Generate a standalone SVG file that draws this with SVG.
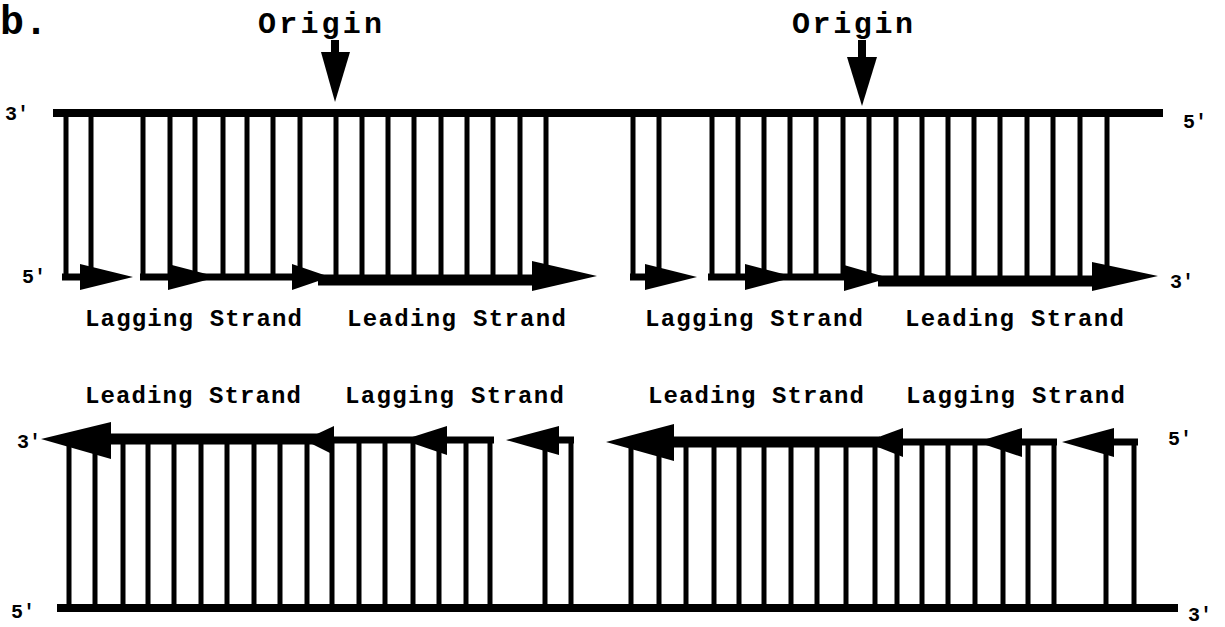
<svg xmlns="http://www.w3.org/2000/svg" width="1225" height="627" viewBox="0 0 1225 627">
<style>
.bg{fill:#fff}
.strand{stroke:#000;fill:none;stroke-linecap:butt}
.par{stroke-width:8}
.thin{stroke-width:7}
.thick{stroke-width:11}
.bar{stroke:#000;stroke-width:5;fill:none}
.head{fill:#000;stroke:none}
.lbl{font-family:"Liberation Mono","Courier New",monospace;font-weight:bold;fill:#000}
.end{font-family:"Liberation Mono","Courier New",monospace;font-weight:bold;font-size:20px;fill:#000}
</style>
<rect class="bg" x="0" y="0" width="1225" height="627"/>
<g id="panel-label"><text class="lbl" x="0" y="34" font-size="40">b.</text></g>

<g id="origin-left">
<text class="lbl" x="258" y="33" font-size="30" textLength="124" lengthAdjust="spacing">Origin</text>
<rect x="331" y="40" width="8" height="13" fill="#000"/>
<polygon class="head" points="321,52 350,52 335,102"/>
</g>
<g id="origin-right">
<text class="lbl" x="792" y="33" font-size="30" textLength="121" lengthAdjust="spacing">Origin</text>
<rect x="858" y="40" width="8" height="18" fill="#000"/>
<polygon class="head" points="847,57 877,57 862,106"/>
</g>

<g id="end-labels">
<text class="end" x="5" y="120">3'</text>
<text class="end" x="22" y="283">5'</text>
<text class="end" x="1183" y="128">5'</text>
<text class="end" x="1170" y="288">3'</text>
<text class="end" x="17" y="448">3'</text>
<text class="end" x="11" y="618">5'</text>
<text class="end" x="1168" y="445">5'</text>
<text class="end" x="1188" y="621">3'</text>
</g>

<g id="strand-labels">
<text class="lbl" x="85" y="326" font-size="24" textLength="217" lengthAdjust="spacing">Lagging Strand</text>
<text class="lbl" x="347" y="326" font-size="24" textLength="219" lengthAdjust="spacing">Leading Strand</text>
<text class="lbl" x="645" y="326" font-size="24" textLength="218" lengthAdjust="spacing">Lagging Strand</text>
<text class="lbl" x="905" y="326" font-size="24" textLength="219" lengthAdjust="spacing">Leading Strand</text>
<text class="lbl" x="85" y="403" font-size="24" textLength="216" lengthAdjust="spacing">Leading Strand</text>
<text class="lbl" x="345" y="403" font-size="24" textLength="219" lengthAdjust="spacing">Lagging Strand</text>
<text class="lbl" x="648" y="403" font-size="24" textLength="216" lengthAdjust="spacing">Leading Strand</text>
<text class="lbl" x="906" y="403" font-size="24" textLength="219" lengthAdjust="spacing">Lagging Strand</text>
</g>

<g id="top-duplex">
<line class="strand par" x1="53" y1="113" x2="1163" y2="113"/>
<path class="bar" d="M66 113V277M91 113V277M143 113V277M170 113V277M195 113V277M223 113V277M247 113V277M273 113V277M300 113V277M336 113V277M362 113V277M388 113V277M414 113V277M441 113V277M467 113V277M493 113V277M520 113V277M546 113V277"/>
<path class="bar" d="M633 113V277M659 113V277M712 113V277M738 113V277M764 113V277M790 113V277M816 113V277M843 113V277M869 113V277M896 113V277M922 113V277M948 113V277M974 113V277M1000 113V277M1027 113V277M1053 113V277M1080 113V277M1107 113V277"/>
</g>

<g id="bottom-duplex">
<line class="strand par" x1="57" y1="608" x2="1178" y2="608"/>
<path class="bar" d="M69 440V606M95 440V606M123 440V606M148 440V606M174 440V606M201 440V606M227 440V606M254 440V606M280 440V606M307 440V606M332 440V606M359 440V606M385 440V606M413 440V606M439 440V606M466 440V606M490 440V606M545 440V606M571 440V606"/>
<path class="bar" d="M631 442V606M659 442V606M686 442V606M714 442V606M739 442V606M764 442V606M791 442V606M817 442V606M846 442V606M875 442V606M897 442V606M922 442V606M948 442V606M975 442V606M1003 442V606M1028 442V606M1054 442V606M1106 442V606M1134 442V606"/>
</g>

<g id="connectors">
<!-- top half, left -->
<line class="strand thin" x1="62" y1="277" x2="110" y2="277"/>
<polygon class="head" points="80,264 133,277 80,290"/>
<line class="strand thin" x1="140" y1="277" x2="305" y2="277"/>
<polygon class="head" points="168,264 218,277 168,290"/>
<polygon class="head" points="292,264 330,277 292,290"/>
<line class="strand thick" x1="318" y1="280" x2="545" y2="280"/>
<polygon class="head" points="532,261 597,276 532,291"/>
<!-- top half, right -->
<line class="strand thin" x1="630" y1="277" x2="680" y2="277"/>
<polygon class="head" points="645,264 697,277 645,290"/>
<line class="strand thin" x1="708" y1="277" x2="870" y2="277"/>
<polygon class="head" points="745,264 795,277 745,290"/>
<polygon class="head" points="844,265 889,278 844,291"/>
<line class="strand thick" x1="878" y1="281" x2="1100" y2="281"/>
<polygon class="head" points="1092,262 1158,276 1092,291"/>
<!-- bottom half, left -->
<line class="strand thick" x1="100" y1="439" x2="322" y2="439"/>
<polygon class="head" points="111,422 41,439 111,459"/>
<line class="strand thin" x1="325" y1="440" x2="494" y2="440"/>
<polygon class="head" points="334,426 304,440 334,455"/>
<polygon class="head" points="447,426 403,440 447,455"/>
<line class="strand thin" x1="550" y1="440" x2="574" y2="440"/>
<polygon class="head" points="559,426 506,440 559,455"/>
<!-- bottom half, right -->
<line class="strand thick" x1="665" y1="442" x2="880" y2="442"/>
<polygon class="head" points="674,424 606,442 674,461"/>
<line class="strand thin" x1="895" y1="442" x2="1057" y2="442"/>
<polygon class="head" points="903,428 865,442 903,457"/>
<polygon class="head" points="1022,428 977,442 1022,457"/>
<line class="strand thin" x1="1105" y1="442" x2="1138" y2="442"/>
<polygon class="head" points="1114,428 1062,442 1114,457"/>
</g>
</svg>
